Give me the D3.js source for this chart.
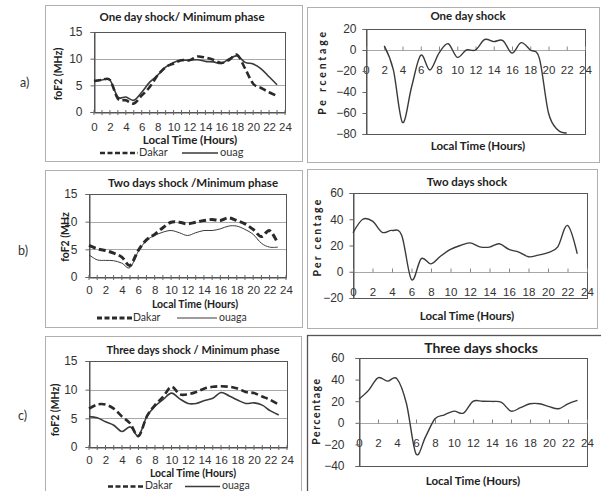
<!DOCTYPE html>
<html><head><meta charset="utf-8">
<script src="https://cdn.jsdelivr.net/npm/d3@7"></script>
<style>
body{margin:0;background:#fff;}
svg{display:block;font-family:Lato,"Open Sans",sans-serif;}
</style></head>
<body>
<svg id="c" width="601" height="491"></svg>
<script>
// ---------- DATA ----------
const hours = [0,1,2,3,4,5,6,7,8,9,10,11,12,13,14,15,16,17,18,19,20,21,22,23];
const xTicks = [0,2,4,6,8,10,12,14,16,18,20,22,24];
const foF2Ticks = [0,5,10,15];

const dakarA = [5.8,6.0,6.0,2.5,2.2,1.6,3.1,4.7,6.9,8.4,9.1,9.7,9.7,10.4,10.2,9.8,9.2,9.8,10.7,8.1,5.3,4.5,3.7,3.0];
const ouagA  = [5.8,6.0,6.0,2.8,2.8,2.2,3.7,5.6,6.9,8.4,9.3,9.7,9.7,9.8,9.5,9.4,9.1,10.0,10.5,9.3,9.0,8.1,6.6,5.1];
const pctHoursA = [2,3,4,5,6,7,8,9,10,11,12,13,14,15,16,17,18,19,20,21,22];
const pctA = [4,-19,-69,-35,-5,-19,-3,6,-7,0,0,10,8,9,-3,7,0,-8,-60,-76,-79];
const pctTicksA = [-80,-60,-40,-20,0,20];

const dakarB = [5.7,5.1,4.8,4.3,3.6,2.1,4.8,6.7,7.7,8.9,9.9,9.9,9.6,9.9,10.2,10.4,10.2,10.7,10.2,9.6,8.6,7.3,8.4,6.1];
const ouagaB = [4.0,3.1,3.0,2.95,2.5,1.7,4.6,6.6,7.5,8.1,8.4,8.0,7.5,8.0,8.4,8.4,8.7,9.2,9.2,8.6,7.7,6.1,5.4,5.4];
const pctB = [29.7,40,38.6,30,31.5,27.7,-6,10,6,12,17,20,22,19,18.8,21.3,17,15,11.4,12.7,14.5,19,35.3,13.7];
const pctTicksB = [-20,0,20,40,60];

const dakarC = [6.7,7.4,7.4,6.7,5.3,4.1,1.9,5.3,7.3,8.8,10.5,9.2,9.2,9.6,10.2,10.5,10.6,10.5,10.2,9.6,9.4,8.8,8.2,7.4];
const ouagaC = [5.3,5.1,4.4,3.8,2.7,3.5,2.0,5.3,7.1,8.3,9.4,8.4,7.6,7.6,8.1,8.5,9.5,8.9,8.2,7.6,7.7,7.3,6.3,5.6];
const pctC = [22,30,41.7,38.6,40.7,17.6,-28.7,-13,3.7,7.4,10.8,9,19.8,20,19.8,19,10.8,14,17.6,17.6,15,13,17.6,20.7];
const pctTicksC = [-40,-20,0,20,40,60];

// ---------- DRAW ----------
const svg = d3.select("#c");
const ink = "#3a3a3a";
const curve = d3.curveCardinal.tension(0);

function frame(f, col, w){
  svg.append("rect").attr("x",f[0]+0.5).attr("y",f[1]+0.5).attr("width",f[2]).attr("height",f[3])
    .attr("fill","none").attr("stroke",col||"#b0b0b0").attr("stroke-width",w||1);
}

function leftPanel(cfg){
  frame(cfg.frame);
  const x = d3.scaleLinear().domain([0,24]).range([cfg.px[0],cfg.px[1]]);
  const y = d3.scaleLinear().domain([0,15]).range([cfg.py[1],cfg.py[0]]);
  const g = svg.append("g");
  g.selectAll(".gl").data(foF2Ticks.filter(d=>d>0&&d<15)).join("line")
    .attr("x1",x(0)).attr("x2",x(24)).attr("y1",d=>Math.round(y(d))+0.5).attr("y2",d=>Math.round(y(d))+0.5)
    .attr("stroke","#a8a8a8").attr("stroke-width",1);
  g.append("rect").attr("x",x(0)+0.5).attr("y",y(15)+0.5).attr("width",x(24)-x(0)).attr("height",y(0)-y(15))
    .attr("fill","none").attr("stroke","#555").attr("stroke-width",1);
  const xa = g.append("g").attr("transform",`translate(0,${y(0)+0.5})`)
    .call(d3.axisBottom(x).tickValues(xTicks).tickSize(0).tickPadding(cfg.xpad).tickFormat(d3.format("d")));
  xa.select(".domain").attr("stroke","#555");
  xa.selectAll("text").attr("font-size",11.5).attr("fill","#333");
  g.selectAll(".mt").data(d3.range(0,25)).join("line")
    .attr("x1",d=>x(d)).attr("x2",d=>x(d)).attr("y1",y(0)-2).attr("y2",y(0)+3).attr("stroke","#666");
  const ya = g.append("g").attr("transform",`translate(${x(0)+0.5},0)`)
    .call(d3.axisLeft(y).tickValues(foF2Ticks).tickSize(4).tickPadding(cfg.ypad));
  ya.select(".domain").attr("stroke","#555");
  ya.selectAll("line").attr("stroke","#666");
  ya.selectAll("text").attr("font-size",12).attr("fill","#333");
  const ln = (arr)=>d3.line().x((d,i)=>x(hours[i])).y(d=>y(d)).curve(curve)(arr);
  g.append("path").attr("d",ln(cfg.solid)).attr("fill","none").attr("stroke",ink).attr("stroke-width",cfg.sw);
  g.append("path").attr("d",ln(cfg.dash)).attr("fill","none").attr("stroke","#2a2a2a").attr("stroke-width",cfg.dw).attr("stroke-dasharray","7,3.5");
  svg.append("text").attr("x",cfg.title[0]).attr("y",cfg.title[1]).attr("text-anchor","middle")
    .attr("font-size",cfg.title[2]).attr("font-weight","bold").attr("fill","#222").attr("dominant-baseline","middle").text(cfg.title[3]);
  svg.append("text").attr("x",cfg.xlab[0]).attr("y",cfg.xlab[1]).attr("text-anchor","middle")
    .attr("font-size",cfg.xlab[2]).attr("font-weight","bold").attr("fill","#222").attr("dominant-baseline","middle").text("Local Time (Hours)");
  svg.append("text").attr("transform",`translate(${cfg.ylab[0]},${cfg.ylab[1]}) rotate(-90)`).attr("text-anchor","middle")
    .attr("font-size",10.5).attr("font-weight","bold").attr("fill","#222").attr("dominant-baseline","middle").text(cfg.ylab[2]);
  const L = cfg.leg;
  svg.append("line").attr("x1",L[0]).attr("x2",L[1]).attr("y1",L[6]).attr("y2",L[6]).attr("stroke","#2a2a2a").attr("stroke-width",cfg.dw).attr("stroke-dasharray","5,2.5");
  svg.append("text").attr("x",L[2]).attr("y",L[6]).attr("font-size",L[8]).attr("fill","#333").attr("dominant-baseline","middle").text("Dakar");
  svg.append("line").attr("x1",L[3]).attr("x2",L[4]).attr("y1",L[6]).attr("y2",L[6]).attr("stroke",ink).attr("stroke-width",cfg.sw);
  svg.append("text").attr("x",L[5]).attr("y",L[6]).attr("font-size",L[8]).attr("fill","#333").attr("dominant-baseline","middle").text(L[7]);
  svg.append("text").attr("x",cfg.letter[0]).attr("y",cfg.letter[1]).attr("font-size",12.5).attr("fill","#333").attr("dominant-baseline","middle").text(cfg.letter[2]);
}

function rightPanel(cfg){
  frame(cfg.frame, cfg.fcol, cfg.fw);
  const x = d3.scaleLinear().domain([0,24]).range([cfg.px[0],cfg.px[1]]);
  const y = d3.scaleLinear().domain(cfg.ydom).range([cfg.py[1],cfg.py[0]]);
  const g = svg.append("g");
  g.append("line").attr("x1",x(0)).attr("x2",x(24)).attr("y1",Math.round(y(0))+0.5).attr("y2",Math.round(y(0))+0.5).attr("stroke","#a8a8a8");
  g.append("rect").attr("x",x(0)+0.5).attr("y",y(cfg.ydom[1])+0.5).attr("width",x(24)-x(0)).attr("height",y(cfg.ydom[0])-y(cfg.ydom[1]))
    .attr("fill","none").attr("stroke","#555");
  const xa = g.append("g").attr("transform",`translate(0,${Math.round(y(0))+0.5})`)
    .call(d3.axisBottom(x).tickValues(xTicks).tickSize(-4).tickPadding(15).tickFormat(d3.format("d")));
  xa.select(".domain").remove();
  xa.selectAll("line").attr("stroke","#888");
  xa.selectAll("text").attr("font-size",11.5).attr("fill","#333");
  const ya = g.append("g").attr("transform",`translate(${x(0)+0.5},0)`)
    .call(d3.axisLeft(y).tickValues(cfg.yticks).tickSize(4).tickPadding(cfg.ypad));
  ya.select(".domain").attr("stroke","#555");
  ya.selectAll("line").attr("stroke","#666");
  ya.selectAll("text").attr("font-size",12).attr("fill","#333");
  g.append("path").attr("d",d3.line().x((d,i)=>x(cfg.hrs[i])).y(d=>y(d)).curve(curve)(cfg.vals))
    .attr("fill","none").attr("stroke",ink).attr("stroke-width",1.4);
  svg.append("text").attr("x",cfg.title[0]).attr("y",cfg.title[1]).attr("text-anchor","middle")
    .attr("font-size",cfg.title[2]).attr("font-weight","bold").attr("fill","#222").attr("dominant-baseline","middle").text(cfg.title[3]);
  svg.append("text").attr("x",cfg.xlab[0]).attr("y",cfg.xlab[1]).attr("text-anchor","middle")
    .attr("font-size",11.5).attr("font-weight","bold").attr("fill","#222").attr("dominant-baseline","middle").text("Local Time (Hours)");
  svg.append("text").attr("transform",`translate(${cfg.ylab[0]},${cfg.ylab[1]}) rotate(-90)`).attr("text-anchor","middle")
    .attr("font-size",10.5).attr("font-weight","bold").attr("fill","#222").attr("letter-spacing",cfg.ylab[3])
    .attr("dominant-baseline","middle").text(cfg.ylab[2]);
}

leftPanel({frame:[45,5,257,156], px:[94,285], py:[32,112], xpad:10, ypad:8, sw:1.6, dw:2.6,
  solid:ouagA, dash:dakarA,
  title:[182,18,11.5,"One day shock/ Minimum  phase"], xlab:[190,141,11.5], ylab:[59,74,"foF2 (MHz)"],
  leg:[100,138,139,182,218,220,153,"ouag",11], letter:[20,84,"a)"]});
leftPanel({frame:[45,170,257,157], px:[89,286], py:[194,277], xpad:8, ypad:8, sw:1, dw:3,
  solid:ouagaB, dash:dakarB,
  title:[193,184,11.5,"Two days shock /Minimum phase"], xlab:[195,305.5,10.5], ylab:[66,237,"foF2 (MHz"],
  leg:[97,132,133,177,217,219,318,"ouaga",10.5], letter:[18,252,"b)"]});
leftPanel({frame:[45,336,256,160], px:[89,287], py:[361,447], xpad:8, ypad:8, sw:1.6, dw:2.6,
  solid:ouagaC, dash:dakarC,
  title:[193,351,11,"Three days shock / Minimum phase"], xlab:[193,474,10.5], ylab:[56,410,"foF2 (MHz)"],
  leg:[108,143,145,185,220,222,486.5,"ouaga",10.5], letter:[18,417,"c)"]});

rightPanel({frame:[307,7,292,155], px:[366,585], py:[29,134], ydom:[-80,20], yticks:pctTicksA, ypad:6,
  hrs:pctHoursA, vals:pctA, title:[468,17,11.5,"One day shock"], xlab:[478,147], ylab:[323,72,"Pe rcentage",2.8]});
rightPanel({frame:[307,169,290,159], px:[353,587], py:[193,298], ydom:[-20,60], yticks:pctTicksB, ypad:6,
  hrs:hours, vals:pctB, title:[467,183,11.5,"Two days shock"], xlab:[467,317], ylab:[318,237,"Per centage",2.2]});
rightPanel({frame:[307,335,296,160], fcol:"#555", fw:1.3, px:[359,587], py:[358,466], ydom:[-40,60], yticks:pctTicksC, ypad:11,
  hrs:hours, vals:pctC, title:[481,349,14,"Three days shocks"], xlab:[473,482], ylab:[317,411,"Percentage",1.5]});
</script>
</body></html>
